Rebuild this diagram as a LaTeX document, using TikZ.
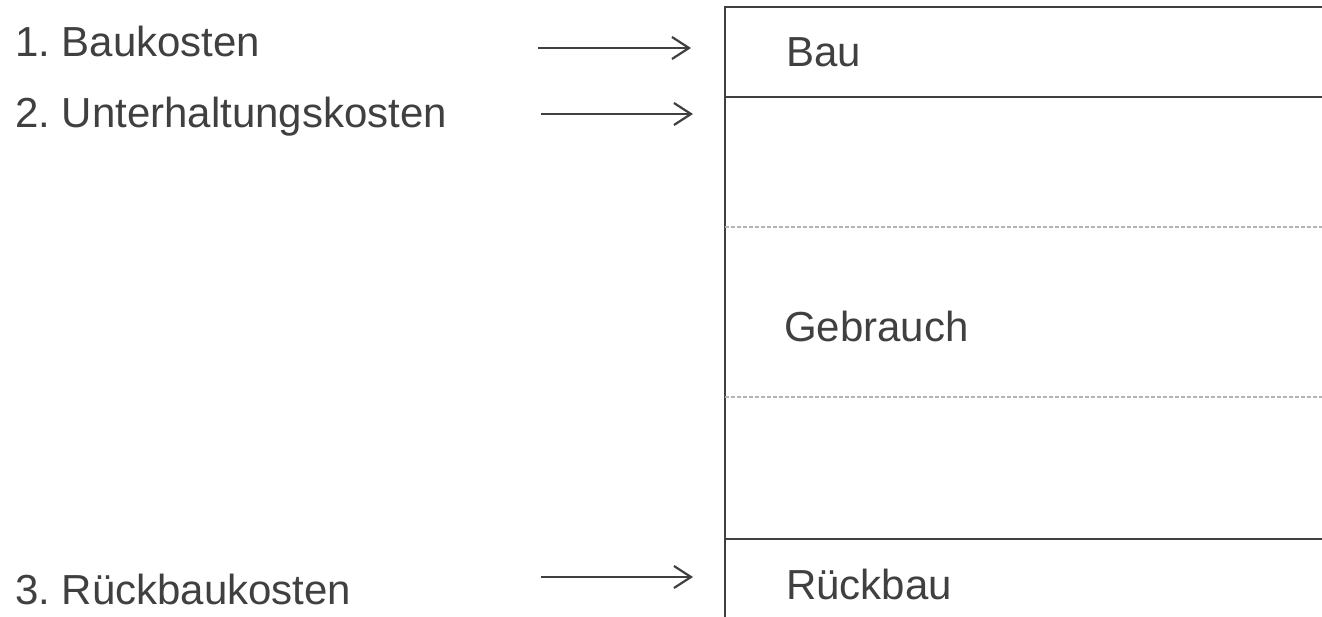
\documentclass[tikz,border=0pt]{standalone}
\usepackage{fontspec}
\setmainfont{Liberation Sans}
\usetikzlibrary{arrows.meta}
\definecolor{ink}{HTML}{404040}
\definecolor{dashgray}{HTML}{B4B4B4}
\frenchspacing
\tikzset{
  lbl/.style={anchor=base west, inner sep=0pt, text=ink, font=\fontsize{42}{50}\selectfont},
  solidline/.style={draw=ink, line width=2.2pt},
  dashline/.style={draw=dashgray, line width=1.2pt, dash pattern=on 4pt off 2pt},
  arr/.style={draw=ink, line width=2.2pt, -{Straight Barb[length=17pt,width=22pt,line width=2.2pt]}}
}
\begin{document}
\begin{tikzpicture}[x=1pt,y=-1pt]
\useasboundingbox (0,0) rectangle (1322,617);
% left labels
\node[lbl] (l1) at (15,57) {1. Baukosten};
\node[lbl] (l2) at (15,128) {2. Unterhaltungskosten};
\node[lbl] (l3) at (15,604) {3. Rückbaukosten};
% right labels
\node[lbl] (r1) at (786,67) {Bau};
\node[lbl] (r2) at (784,342) {Gebrauch};
\node[lbl] (r3) at (786,599) {Rückbau};
% box
\coordinate (tl) at (725,7);
\coordinate (tr) at (1322,7);
\coordinate (bl) at (725,617);
\coordinate (b1l) at (725,97);
\coordinate (b1r) at (1322,97);
\coordinate (d1l) at (725,227);
\coordinate (d1r) at (1322,227);
\coordinate (d2l) at (725,397);
\coordinate (d2r) at (1322,397);
\coordinate (b2l) at (725,539);
\coordinate (b2r) at (1322,539);
\draw[solidline] (tr) -- (tl) -- (bl);
\draw[solidline] (b1l) -- (b1r);
\draw[solidline] (b2l) -- (b2r);
\draw[dashline] (d1l) -- (d1r);
\draw[dashline] (d2l) -- (d2r);
% arrows
\coordinate (a1s) at (538,48);
\coordinate (a1e) at (691,48);
\coordinate (a2s) at (541,114);
\coordinate (a2e) at (693,114);
\coordinate (a3s) at (541,577);
\coordinate (a3e) at (693,577);
\draw[arr] (a1s) -- (a1e);
\draw[arr] (a2s) -- (a2e);
\draw[arr] (a3s) -- (a3e);
\end{tikzpicture}
\end{document}
